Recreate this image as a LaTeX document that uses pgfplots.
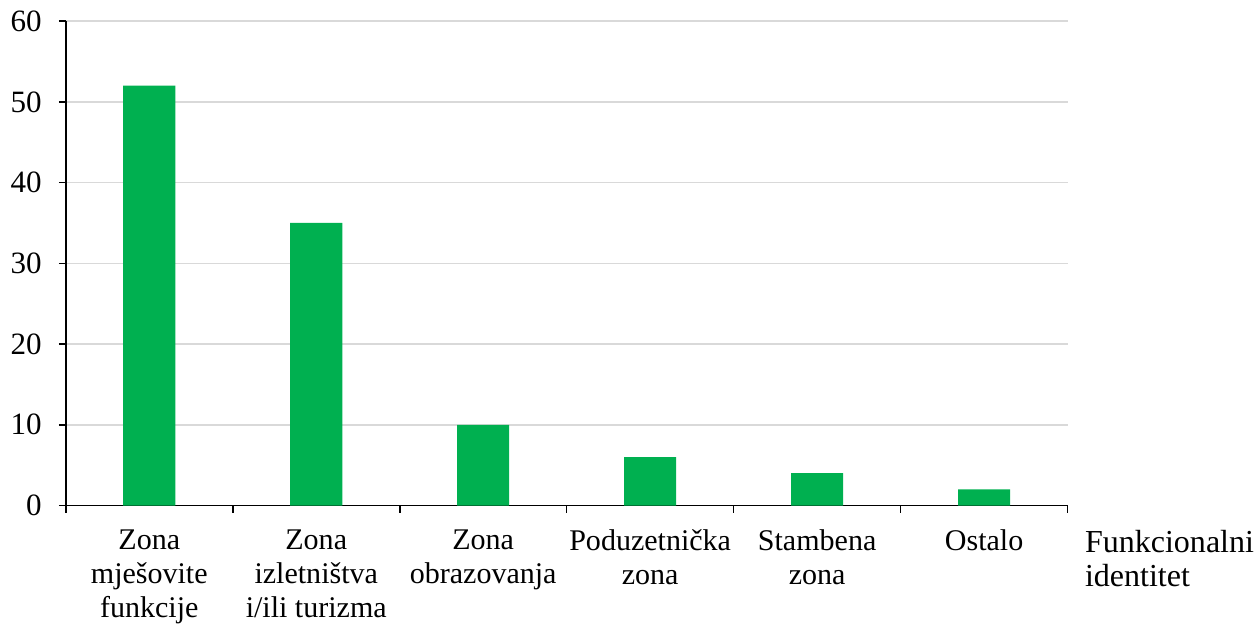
\documentclass[border=0pt]{standalone}
\usepackage{pgfplots}
\pgfplotsset{compat=1.18}
\usepackage{fontspec}
\setmainfont{Liberation Serif}
\definecolor{bargreen}{HTML}{00B050}
\definecolor{gridgray}{HTML}{D9D9D9}
\begin{document}
\fontsize{16}{17}\selectfont
\begin{tikzpicture}
\begin{axis}[
  scale only axis,
  width=500.5pt, height=242pt,
  xmin=-0.5, xmax=5.5,
  ymin=0, ymax=60,
  ytick={0,10,...,60},
  axis x line=bottom, axis y line=left,
  axis line style={-, black, line width=0.8pt},
  x axis line style={-}, y axis line style={-},
  xtick={0,...,5},
  xticklabels={{Zona\\mješovite\\funkcije},{Zona\\izletništva\\i/ili turizma},{Zona\\obrazovanja},{Poduzetnička\\zona},{Stambena\\zona},{Ostalo}},
  xticklabel style={align=center, font=\fontsize{15}{17}\selectfont, inner ysep=0pt, yshift=-8.5pt},
  yticklabel style={font=\fontsize{15.5}{17}\selectfont, xshift=-3pt},
  /pgf/number format/assume math mode=true,
  major x tick style={draw=none},
  minor xtick={-0.5,0.5,...,5.5},
  minor x tick style={black, line width=0.8pt},
  minor tick length=3.5pt,
  major tick length=3.5pt,
  tick align=outside,
  y tick style={black, line width=0.8pt},
  ymajorgrids,
  grid style={gridgray, line width=0.8pt},
  ybar, bar width=26pt,
  enlarge x limits=false,
  clip=false,
]
\addplot[fill=bargreen, draw=none] coordinates {(0,52) (1,35) (2,10) (3,6) (4,4) (5,2)};
\node[anchor=north west, align=left, font=\fontsize{16}{17}\selectfont, inner sep=0pt] at ([xshift=8.5pt, yshift=-12pt]rel axis cs:1,0) {Funkcionalni\\identitet};
\end{axis}
\end{tikzpicture}
\end{document}
